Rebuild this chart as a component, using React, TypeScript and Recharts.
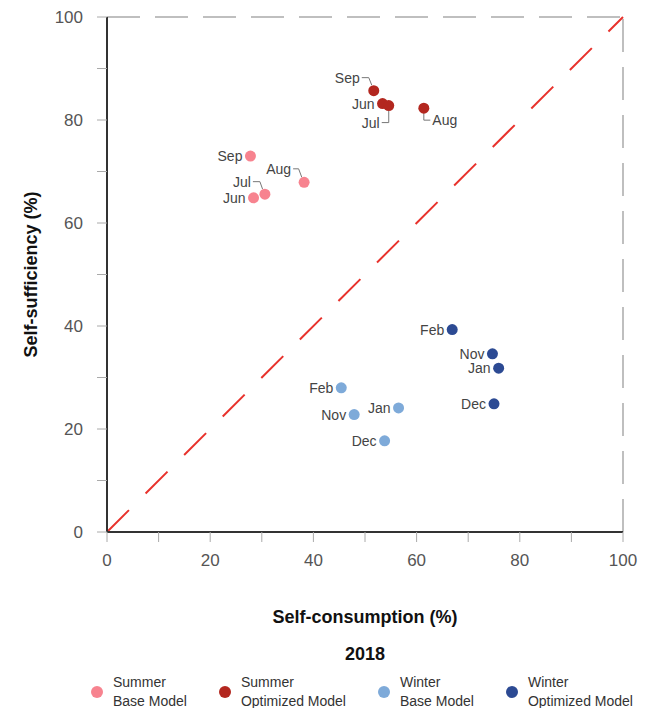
import React from "react";
import { ReferenceLine, Scatter, ScatterChart, XAxis, YAxis, Legend } from "recharts";

const summerMonths = ["Jun", "Jul", "Aug", "Sep"];
const summerBaseX = [28.4, 30.6, 38.2, 27.8];
const summerBaseY = [64.9, 65.6, 67.9, 73.0];
const summerOptX = [53.4, 54.6, 61.4, 51.7];
const summerOptY = [83.2, 82.8, 82.3, 85.7];

const winterMonths = ["Nov", "Dec", "Jan", "Feb"];
const winterBaseX = [47.9, 53.8, 56.5, 45.4];
const winterBaseY = [22.8, 17.7, 24.1, 28.0];
const winterOptX = [74.7, 75.0, 75.9, 66.9];
const winterOptY = [34.6, 24.9, 31.8, 39.3];

const axisTicks = [0, 10, 20, 30, 40, 50, 60, 70, 80, 90, 100];
const legendTitle = "2018";

const FONT = '"Liberation Sans", Arial, Helvetica, sans-serif';

type SeriesDef = {
  key: string;
  name: [string, string];
  color: string;
  months: string[];
  xs: number[];
  ys: number[];
};

const series: SeriesDef[] = [
  { key: "sb", name: ["Summer", "Base Model"], color: "#f7838f", months: summerMonths, xs: summerBaseX, ys: summerBaseY },
  { key: "so", name: ["Summer", "Optimized Model"], color: "#b3271f", months: summerMonths, xs: summerOptX, ys: summerOptY },
  { key: "wb", name: ["Winter", "Base Model"], color: "#7eaad9", months: winterMonths, xs: winterBaseX, ys: winterBaseY },
  { key: "wo", name: ["Winter", "Optimized Model"], color: "#2c4a93", months: winterMonths, xs: winterOptX, ys: winterOptY },
];

// label placement for points whose label is not simply left of the dot
type Placement = { dx: number; dy: number; anchor?: "start" | "end"; leader?: [number, number][] };
const placements: Record<string, Placement> = {
  "so:Sep": { dx: -14, dy: -13, leader: [[-12, -13], [-5, -13], [-2, -5.5]] },
  "so:Jul": { dx: -9, dy: 17, leader: [[0, 5], [0, 17], [-7, 17]] },
  "so:Aug": { dx: 8.5, dy: 12, anchor: "start", leader: [[0, 5], [0, 12], [6.5, 12]] },
  "sb:Aug": { dx: -13, dy: -13.5, leader: [[-11, -13.5], [-5.5, -13.5], [-2.3, -5]] },
  "sb:Jul": { dx: -14, dy: -12.5, leader: [[-12, -12.5], [-5, -12.5], [-2.3, -5]] },
};

const makeShape = (s: SeriesDef) => (props: any) => {
  const { cx, cy, payload } = props;
  const p = placements[`${s.key}:${payload.month}`] ?? { dx: -8, dy: 0 };
  return (
    <g>
      {p.leader && (
        <polyline
          points={p.leader.map(([a, b]) => `${cx + a},${cy + b}`).join(" ")}
          fill="none"
          stroke="#777"
          strokeWidth={1}
        />
      )}
      <circle cx={cx} cy={cy} r={5.5} fill={s.color} />
      <text
        x={cx + p.dx}
        y={cy + p.dy}
        textAnchor={p.anchor ?? "end"}
        dominantBaseline="central"
        fontSize={14}
        fill="#444"
        fontFamily={FONT}
      >
        {payload.month}
      </text>
    </g>
  );
};

const tickFmt = (v: number) => (v % 20 === 0 ? String(v) : "");

// legend wrapper sits at margin.left (20px), so offsets below are relative to that
const renderLegend = () => (
  <div style={{ width: 627, height: 70, fontFamily: FONT, color: "#333", position: "relative" }}>
    <div style={{ position: "absolute", left: 0, width: 690, top: 6, textAlign: "center", fontWeight: "bold", fontSize: 18, color: "#111" }}>
      {legendTitle}
    </div>
    <div style={{ position: "absolute", left: 71, top: 35, display: "flex", alignItems: "center", gap: 32 }}>
      {series.map((s) => (
        <div key={s.key} style={{ display: "flex", alignItems: "center" }}>
          <span style={{ width: 12, height: 12, borderRadius: 6, background: s.color, marginRight: 10, display: "inline-block" }} />
          <div style={{ fontSize: 14, lineHeight: "19px", whiteSpace: "nowrap" }}>
            {s.name[0]}
            <br />
            {s.name[1]}
          </div>
        </div>
      ))}
    </div>
  </div>
);

export default function App() {
  return (
    <div style={{ position: "absolute", left: 0, top: 0, width: 647, height: 708, background: "#fff", fontFamily: FONT }}>
      <ScatterChart width={647} height={708} margin={{ top: 17, right: 24, bottom: 0, left: 20 }}>
        <XAxis
          type="number"
          dataKey="x"
          domain={[0, 100]}
          ticks={axisTicks}
          tickFormatter={tickFmt}
          interval={0}
          height={106}
          tickSize={10}
          tickMargin={12}
          axisLine={{ stroke: "#333", strokeWidth: 2 }}
          tickLine={{ stroke: "#aaa" }}
          tick={{ fontSize: 17, fill: "#555", fontFamily: FONT }}
          label={({ viewBox }: any) => (
            <text
              x={viewBox.x + viewBox.width / 2}
              y={viewBox.y + 85}
              textAnchor="middle"
              dominantBaseline="central"
              fontSize={18}
              fontWeight="bold"
              fill="#111"
              fontFamily={FONT}
            >
              Self-consumption (%)
            </text>
          )}
        />
        <YAxis
          type="number"
          dataKey="y"
          domain={[0, 100]}
          ticks={axisTicks}
          tickFormatter={tickFmt}
          interval={0}
          width={87}
          tickSize={10}
          tickMargin={14}
          axisLine={{ stroke: "#333", strokeWidth: 2 }}
          tickLine={{ stroke: "#aaa" }}
          tick={{ fontSize: 17, fill: "#555", fontFamily: FONT }}
          label={({ viewBox }: any) => {
            const x = viewBox.x + 11;
            const y = viewBox.y + viewBox.height / 2;
            return (
              <text
                x={x}
                y={y}
                transform={`rotate(-90 ${x} ${y})`}
                textAnchor="middle"
                dominantBaseline="central"
                fontSize={18}
                fontWeight="bold"
                fill="#111"
                fontFamily={FONT}
              >
                Self-sufficiency (%)
              </text>
            );
          }}
        />
        <ReferenceLine y={100} stroke="#aaa" strokeWidth={1.5} strokeDasharray="33 15" />
        <ReferenceLine x={100} stroke="#aaa" strokeWidth={1.5} strokeDasharray="33 15" />
        <ReferenceLine
          segment={[{ x: 0, y: 0 }, { x: 100, y: 100 }]}
          stroke="#e8322c"
          strokeWidth={2}
          strokeDasharray="31 23.5"
        />
        {series.map((s) => (
          <Scatter
            key={s.key}
            name={s.name.join(" ")}
            data={s.months.map((m, i) => ({ month: m, x: s.xs[i], y: s.ys[i] }))}
            fill={s.color}
            shape={makeShape(s)}
            isAnimationActive={false}
          />
        ))}
        <Legend verticalAlign="bottom" content={renderLegend} />
      </ScatterChart>
    </div>
  );
}
